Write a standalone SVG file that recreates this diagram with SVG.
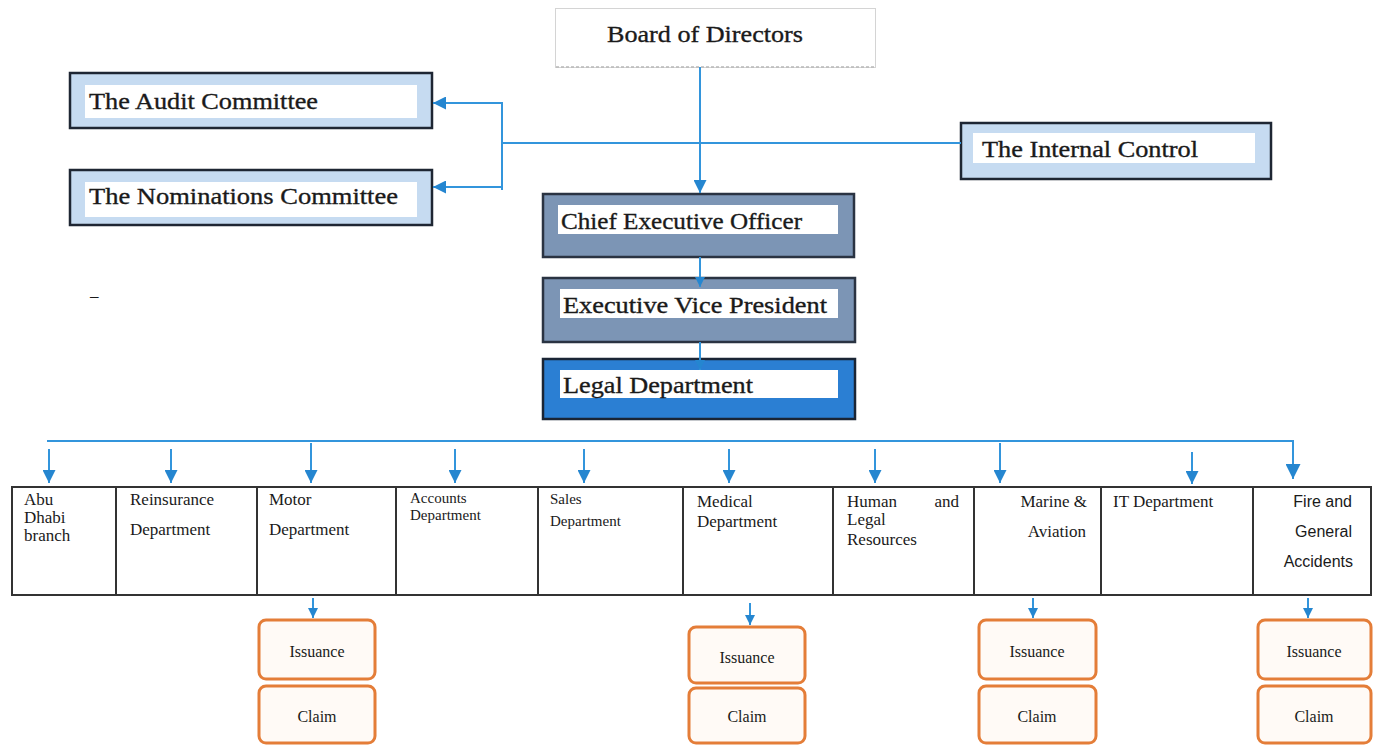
<svg xmlns="http://www.w3.org/2000/svg" width="1377" height="746" viewBox="0 0 1377 746">
<defs>
<marker id="arr" viewBox="0 0 10 10" refX="10" refY="5" markerWidth="13" markerHeight="13" markerUnits="userSpaceOnUse" orient="auto">
<path d="M0,0 L10,5 L0,10 z" fill="#2586d0"/>
</marker>
<marker id="arrS" viewBox="0 0 10 10" refX="10" refY="5" markerWidth="10" markerHeight="10" markerUnits="userSpaceOnUse" orient="auto">
<path d="M0,0 L10,5 L0,10 z" fill="#2586d0"/>
</marker>
<marker id="arrL" viewBox="0 0 10 10" refX="10" refY="5" markerWidth="15" markerHeight="15" markerUnits="userSpaceOnUse" orient="auto">
<path d="M0,0 L10,5 L0,10 z" fill="#2586d0"/>
</marker>
</defs>
<style>
.big{font-family:"Liberation Serif","DejaVu Serif",serif;font-size:24px;fill:#1a1a1a;stroke:#1a1a1a;stroke-width:0.35}
.dep{font-family:"Liberation Serif","DejaVu Serif",serif;font-size:17px;fill:#1a1a1a}
.sm{font-family:"Liberation Serif","DejaVu Serif",serif;font-size:15px;fill:#1a1a1a}
.sans{font-family:"Liberation Sans",Arial,sans-serif;font-size:16px;fill:#1a1a1a}
.sub{font-family:"Liberation Serif","DejaVu Serif",serif;font-size:16px;fill:#1a1a1a}
.comm{fill:#c6dbf1;stroke:#1e2633;stroke-width:2.5}
.inner{fill:#ffffff}
.steel{fill:#7c95b5;stroke:#2a3342;stroke-width:2.5}
.blue{fill:#2b7fd3;stroke:#1a2535;stroke-width:2.5}
.cell{fill:#ffffff;stroke:#333333;stroke-width:2}
.ob{fill:#fffaf6;stroke:#e47d38;stroke-width:3}
.con{fill:none;stroke:#3395dc;stroke-width:2}
</style>
<rect width="1377" height="746" fill="#ffffff"/>

<g id="board">
<rect x="555.5" y="8.5" width="320" height="59" fill="#ffffff" stroke="#d4d4d4" stroke-width="1"/>
<line x1="556" y1="67" x2="875" y2="67" stroke="#b8b8b8" stroke-width="1.5" stroke-dasharray="3 2"/>
<text class="big" x="607" y="42" font-size="23" textLength="196" lengthAdjust="spacingAndGlyphs">Board of Directors</text>
</g>

<g id="audit">
<rect class="comm" x="70" y="73" width="362" height="55"/>
<rect class="inner" x="85" y="85" width="332" height="33"/>
<text class="big" x="89" y="109" textLength="229" lengthAdjust="spacingAndGlyphs">The Audit Committee</text>
</g>

<g id="nominations">
<rect class="comm" x="70" y="170" width="362" height="55"/>
<rect class="inner" x="85" y="182" width="332" height="35"/>
<text class="big" x="89" y="204" textLength="309" lengthAdjust="spacingAndGlyphs">The Nominations Committee</text>
</g>

<g id="internal">
<rect class="comm" x="961" y="123" width="310" height="56"/>
<rect class="inner" x="973" y="133" width="282" height="30"/>
<text class="big" x="982" y="157" textLength="216" lengthAdjust="spacingAndGlyphs">The Internal Control</text>
</g>

<g id="ceo">
<rect class="steel" x="543" y="194" width="311" height="63"/>
<rect class="inner" x="558" y="205" width="280" height="29"/>
<text class="big" x="561" y="229" textLength="241" lengthAdjust="spacingAndGlyphs">Chief Executive Officer</text>
</g>

<g id="evp">
<rect class="steel" x="543" y="278" width="312" height="64" stroke="#151b24"/>
<rect class="inner" x="560" y="289" width="278" height="29"/>
<text class="big" x="563" y="313" textLength="264" lengthAdjust="spacingAndGlyphs">Executive Vice President</text>
</g>

<g id="legal">
<rect class="blue" x="543" y="359" width="312" height="60"/>
<rect class="inner" x="560" y="370" width="278" height="28"/>
<text class="big" x="563" y="393" textLength="190" lengthAdjust="spacingAndGlyphs">Legal Department</text>
</g>

<text class="dep" x="90" y="301" font-size="20">–</text>

<g id="connectors">
<path class="con" d="M700,67 V193" marker-end="url(#arr)"/>
<path class="con" d="M502,143 H961" stroke-width="2.5"/>
<path class="con" d="M502,102 V190"/>
<path class="con" d="M502,103 H433" marker-end="url(#arr)"/>
<path class="con" d="M502,187 H433" marker-end="url(#arr)"/>
<path class="con" d="M700,257 V287" marker-end="url(#arrS)"/>
<path class="con" d="M700,342 V370" marker-end="url(#arrS)"/>
<path class="con" d="M47,441 H1293 V479" marker-end="url(#arrL)"/>
<path class="con" d="M49,449 V483" marker-end="url(#arr)"/>
<path class="con" d="M171,449 V483" marker-end="url(#arr)"/>
<path class="con" d="M311,443 V483" marker-end="url(#arr)"/>
<path class="con" d="M455,449 V483" marker-end="url(#arr)"/>
<path class="con" d="M584,449 V483" marker-end="url(#arr)"/>
<path class="con" d="M729,449 V483" marker-end="url(#arr)"/>
<path class="con" d="M875,449 V483" marker-end="url(#arr)"/>
<path class="con" d="M1000,443 V483" marker-end="url(#arr)"/>
<path class="con" d="M1192,452 V484" marker-end="url(#arr)"/>
<path class="con" d="M313,598 V618" marker-end="url(#arrS)"/>
<path class="con" d="M750,603 V625" marker-end="url(#arrS)"/>
<path class="con" d="M1033,598 V618" marker-end="url(#arrS)"/>
<path class="con" d="M1308,598 V618" marker-end="url(#arrS)"/>
</g>

<g id="abu">
<rect class="cell" x="12" y="487" width="104" height="108"/>
<text class="dep" x="24" y="505">Abu</text>
<text class="dep" x="24" y="523">Dhabi</text>
<text class="dep" x="24" y="541">branch</text>
</g>
<g id="reinsurance">
<rect class="cell" x="116" y="487" width="141" height="108"/>
<text class="dep" x="130" y="505">Reinsurance</text>
<text class="dep" x="130" y="535">Department</text>
</g>
<g id="motor">
<rect class="cell" x="257" y="487" width="139" height="108"/>
<text class="dep" x="269" y="505">Motor</text>
<text class="dep" x="269" y="535">Department</text>
</g>
<g id="accounts">
<rect class="cell" x="396" y="487" width="142" height="108"/>
<text class="sm" x="410" y="503">Accounts</text>
<text class="sm" x="410" y="520">Department</text>
</g>
<g id="sales">
<rect class="cell" x="538" y="487" width="145" height="108"/>
<text class="sm" x="550" y="504">Sales</text>
<text class="sm" x="550" y="526">Department</text>
</g>
<g id="medical">
<rect class="cell" x="683" y="487" width="150" height="108"/>
<text class="dep" x="697" y="507">Medical</text>
<text class="dep" x="697" y="527">Department</text>
</g>
<g id="human">
<rect class="cell" x="833" y="487" width="141" height="108"/>
<text class="dep" x="847" y="507">Human</text>
<text class="dep" x="959" y="507" text-anchor="end">and</text>
<text class="dep" x="847" y="525">Legal</text>
<text class="dep" x="847" y="545">Resources</text>
</g>
<g id="marine">
<rect class="cell" x="974" y="487" width="127" height="108"/>
<text class="dep" x="1087" y="507" text-anchor="end">Marine &amp;</text>
<text class="dep" x="1086" y="537" text-anchor="end">Aviation</text>
</g>
<g id="it">
<rect class="cell" x="1101" y="487" width="152" height="108"/>
<text class="dep" x="1113" y="507">IT Department</text>
</g>
<g id="fire">
<rect class="cell" x="1253" y="487" width="118" height="108"/>
<text class="sans" x="1352" y="507" text-anchor="end">Fire and</text>
<text class="sans" x="1352" y="537" text-anchor="end">General</text>
<text class="sans" x="1353" y="567" text-anchor="end">Accidents</text>
</g>

<g id="motor-issuance">
<rect class="ob" x="259" y="620" width="116" height="59" rx="7"/>
<text class="sub" x="317" y="657" text-anchor="middle">Issuance</text>
</g>
<g id="motor-claim">
<rect class="ob" x="259" y="686" width="116" height="57" rx="7"/>
<text class="sub" x="317" y="722" text-anchor="middle">Claim</text>
</g>
<g id="medical-issuance">
<rect class="ob" x="689" y="627" width="116" height="56" rx="7"/>
<text class="sub" x="747" y="663" text-anchor="middle">Issuance</text>
</g>
<g id="medical-claim">
<rect class="ob" x="689" y="688" width="116" height="55" rx="7"/>
<text class="sub" x="747" y="722" text-anchor="middle">Claim</text>
</g>
<g id="marine-issuance">
<rect class="ob" x="979" y="620" width="117" height="59" rx="7"/>
<text class="sub" x="1037" y="657" text-anchor="middle">Issuance</text>
</g>
<g id="marine-claim">
<rect class="ob" x="979" y="686" width="117" height="57" rx="7"/>
<text class="sub" x="1037" y="722" text-anchor="middle">Claim</text>
</g>
<g id="fire-issuance">
<rect class="ob" x="1258" y="620" width="113" height="59" rx="7"/>
<text class="sub" x="1314" y="657" text-anchor="middle">Issuance</text>
</g>
<g id="fire-claim">
<rect class="ob" x="1258" y="686" width="113" height="57" rx="7"/>
<text class="sub" x="1314" y="722" text-anchor="middle">Claim</text>
</g>
</svg>
